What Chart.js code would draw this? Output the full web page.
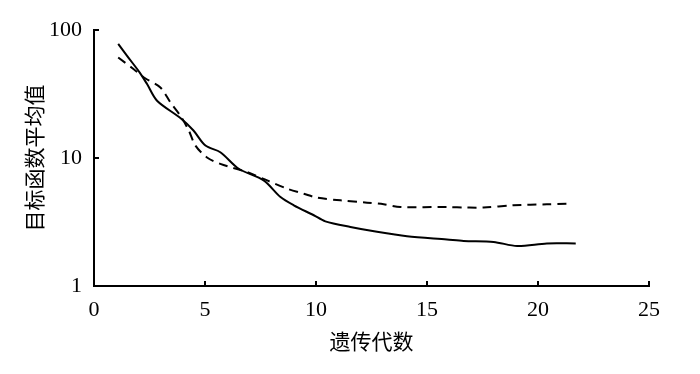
<!DOCTYPE html>
<html>
<head>
<meta charset="utf-8">
<script src="https://cdn.jsdelivr.net/npm/chart.js@4/dist/chart.umd.min.js"></script>
<style>
html,body{margin:0;padding:0;background:#fff;}
#wrap{width:700px;height:374px;position:relative;}
</style>
</head>
<body>
<div id="wrap"><canvas id="c" width="700" height="374"></canvas></div>
<script>
// Data
const genSolid = [1.09, 1.49, 2.06, 2.39, 2.84, 3.89, 4.48, 5.02, 5.69, 6.52, 7.64, 8.4, 9.0, 9.9, 10.42, 11.55, 12.75, 14.1, 15.9, 16.65, 18.0, 19.06, 20.4, 21.7];
const valSolid = [78, 62.8, 46.5, 37.8, 28, 20.5, 16.4, 12.5, 11.1, 8.24, 6.68, 4.95, 4.27, 3.57, 3.2, 2.89, 2.65, 2.45, 2.31, 2.25, 2.21, 2.05, 2.15, 2.15];
const genDashed = [1.09, 1.79, 2.32, 2.99, 3.44, 3.89, 4.27, 4.57, 5.09, 5.69, 6.9, 7.8, 8.7, 9.45, 10.05, 11.1, 12.3, 13.05, 13.8, 15.9, 16.8, 17.55, 18.9, 20.4, 21.3];
const valDashed = [60.9, 49.4, 41.8, 35.6, 27.2, 21.4, 16.4, 12.5, 10.1, 9.0, 7.75, 6.68, 5.76, 5.26, 4.9, 4.67, 4.48, 4.35, 4.14, 4.14, 4.1, 4.1, 4.27, 4.35, 4.4];
const xTicks = [0, 5, 10, 15, 20, 25];
const yTicks = [1, 10, 100];
const xTitle = '遗传代数';
const yTitle = '目标函数平均值';

const toPts = (xs, ys) => xs.map((x, i) => ({x: x, y: ys[i]}));

const inwardTicks = {
  id: 'inwardTicks',
  afterDraw(chart) {
    const ctx = chart.ctx;
    const xs = chart.scales.x, ys = chart.scales.y;
    const ca = chart.chartArea;
    ctx.save();
    ctx.strokeStyle = '#000';
    ctx.lineWidth = 2;
    xTicks.forEach(v => {
      const px = Math.round(xs.getPixelForValue(v));
      ctx.beginPath();
      ctx.moveTo(px, ca.bottom);
      ctx.lineTo(px, ca.bottom - 5);
      ctx.stroke();
    });
    yTicks.forEach(v => {
      const py = Math.round(ys.getPixelForValue(v));
      ctx.beginPath();
      ctx.moveTo(ca.left, py);
      ctx.lineTo(ca.left + 5, py);
      ctx.stroke();
    });
    ctx.restore();
  }
};

const tickFont = {family: '"Liberation Serif", "DejaVu Serif", serif', size: 22};
const titleFont = {family: '"Noto Sans CJK SC", sans-serif', size: 21};

new Chart(document.getElementById('c'), {
  type: 'line',
  data: {
    datasets: [
      {data: toPts(genSolid, valSolid), borderColor: '#000', borderWidth: 2, pointRadius: 0, tension: 0.3, fill: false},
      {data: toPts(genDashed, valDashed), borderColor: '#000', borderWidth: 2, borderDash: [9, 6], pointRadius: 0, tension: 0.3, fill: false}
    ]
  },
  options: {
    responsive: false,
    animation: false,
    devicePixelRatio: 1,
    layout: {padding: {top: 30, right: 51, left: 0, bottom: 0}},
    plugins: {legend: {display: false}, tooltip: {enabled: false}},
    scales: {
      x: {
        type: 'linear', min: 0, max: 25,
        afterBuildTicks(s) { s.ticks = xTicks.map(v => ({value: v})); },
        afterFit(s) { s.height = 88; },
        grid: {display: true, drawOnChartArea: false, drawTicks: false},
        border: {display: true, color: '#000', width: 2},
        ticks: {color: '#000', font: tickFont, padding: 11, maxRotation: 0, callback: v => String(v)},
        title: {display: true, text: xTitle, color: '#000', font: titleFont, padding: {top: 0, bottom: 20}}
      },
      y: {
        type: 'logarithmic', min: 1, max: 100,
        afterBuildTicks(s) { s.ticks = yTicks.map(v => ({value: v})); },
        afterFit(s) { s.width = 94; },
        grid: {display: true, drawOnChartArea: false, drawTicks: false},
        border: {display: true, color: '#000', width: 2},
        ticks: {color: '#000', font: tickFont, padding: 12, callback: v => String(v)},
        title: {display: true, text: yTitle, color: '#000', font: titleFont, padding: {top: 21, bottom: 0}}
      }
    }
  },
  plugins: [inwardTicks]
});
</script>
</body>
</html>
